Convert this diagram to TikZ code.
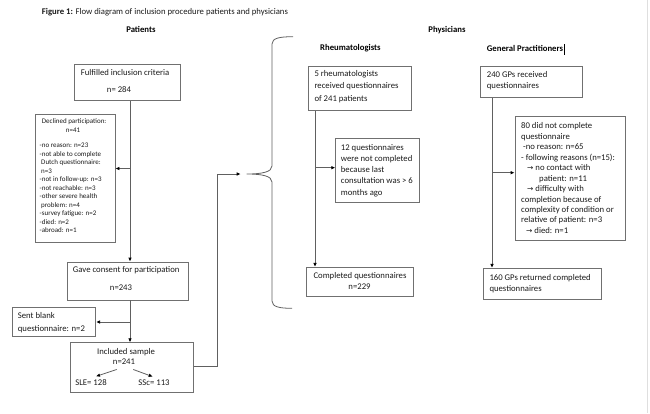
\documentclass[tikz,border=0pt]{standalone}
\usepackage{fontspec}
\setmainfont{Carlito}
\newfontfamily\arrowfont{DejaVu Sans}
\newcommand\garrow{{\fontsize{7.5}{9}\selectfont\arrowfont →}}
\usetikzlibrary{arrows.meta}
\definecolor{boxgray}{HTML}{707070}
\definecolor{linegray}{HTML}{606060}
\definecolor{txtcol}{HTML}{1A1A1A}
\begin{document}
\begin{tikzpicture}[x=1pt,y=-1pt,
  box/.style={draw=boxgray, line width=0.8pt, inner sep=0pt, rectangle},
  txt/.style={inner sep=0pt, align=left, anchor=north west, text=txtcol, font=\fontsize{8.7}{11}\selectfont},
  one/.style={inner sep=0pt, anchor=base, text=txtcol, font=\fontsize{8.7}{11}\selectfont},
  onew/.style={one, anchor=base west},
  head/.style={inner sep=0pt, anchor=base, text=black, font=\fontsize{8.7}{11}\selectfont\bfseries},
  conn/.style={draw=linegray, line width=0.8pt},
  arr/.style={conn, -{Latex[length=4pt,width=3.6pt,color=black]}}
]
\useasboundingbox (0,0) rectangle (650,413);
\draw[draw=gray!25, line width=1pt] (647,0) -- (647,413);

% title and headings
\node[onew] (title) at (41.7,14.5) {\textbf{Figure 1:} Flow diagram of inclusion procedure patients and physicians};
\node[head] (hpat) at (140.9,32.5) {Patients};
\node[head] (hphy) at (447,32.5) {Physicians};
\node[head] (hrh) at (350.4,50.8) {Rheumatologists};
\node[head] (hgp) at (525,51.8) {General Practitioners};
\draw[black, line width=0.6pt] (564.5,44) -- (564.5,55);

% patients boxes
\node[box, minimum width=105.7pt, minimum height=36.7pt] (fulfilled) at (127.2,82.4) {};
\node[onew] (fultxt) at (80.7,75.2) {Fulfilled inclusion criteria};
\node[one] (fuln) at (119,92.5) {n= 284};

\node[box, minimum width=79.5pt, minimum height=128pt] (declined) at (75.25,178) {};
\node[onew, font=\fontsize{7}{8.5}\selectfont] (dectxt) at (41.7,123.7) {Declined participation:};
\node[one, font=\fontsize{7}{8.5}\selectfont] (decn) at (73,132) {n=41};
\node[txt, font=\fontsize{7}{8.5}\selectfont] (declist) at (39.5,142.8) {-no reason: n=23\\-not able to complete\\\hspace{1.5pt}Dutch questionnaire:\\\hspace{1.5pt}n=3\\-not in follow-up: n=3\\-not reachable: n=3\\-other severe health\\\hspace{1.5pt}problem: n=4\\-survey fatigue: n=2\\-died: n=2\\-abroad: n=1};

\node[box, minimum width=121pt, minimum height=38pt] (consent) at (127.5,281) {};
\node[onew] (contxt) at (72.7,272.5) {Gave consent for participation};
\node[one] (conn) at (121,290.5) {n=243};

\node[box, minimum width=83.4pt, minimum height=28.7pt] (sent) at (54,321.65) {};
\node[txt, font=\fontsize{8.7}{13}\selectfont] (senttxt) at (17.7,312.3) {Sent blank\\questionnaire: n=2};

\node[box, minimum width=123.3pt, minimum height=49.6pt] (included) at (131.65,367.5) {};
\node[one] (inctxt) at (126,354.2) {Included sample};
\node[one] (n241) at (124,364.8) {n=241};
\node[one] (sle) at (91,385.8) {SLE= 128};
\node[one] (ssc) at (154,385.8) {SSc= 113};
\draw[arr] ([shift={(-7.3pt,-4.5pt)}]n241.south) -- ([shift={(5pt,3.3pt)}]sle.north);
\draw[arr] ([shift={(9.3pt,-4.5pt)}]n241.south) -- ([shift={(-1.3pt,3.3pt)}]ssc.north);

% patient connectors
\coordinate (tA) at (130,0);
\draw[arr] (fulfilled.south -| tA) -- (consent.north -| tA);
\coordinate (decY) at (0,168.5);
\draw[arr] (tA |- decY) -- (declined.east |- decY);
\draw[arr] (consent.south -| tA) -- (included.north -| tA);
\coordinate (sentY) at (0,322);
\draw[arr] (tA |- sentY) -- (sent.east |- sentY);

% to the brace
\coordinate (incY) at (0,366);
\coordinate (elbowX) at (217,0);
\coordinate (bracetip) at (246.7,174);
\draw[arr] (included.east |- incY) -- (elbowX |- incY) -- (elbowX |- bracetip) -- ([xshift=-6pt]bracetip);
\draw[conn] (293,36.7) .. controls (280,36.7) and (272,38) .. (272,44) -- (272,166)
  .. controls (272,172) and (262,174) .. (bracetip)
  .. controls (262,174) and (272,176) .. (272,182) -- (272,301)
  .. controls (272,307) and (280,308.3) .. (292,308.3);

% rheumatologists
\node[box, minimum width=103.4pt, minimum height=44.7pt] (rh1) at (360,88.35) {};
\node[txt, font=\fontsize{8.7}{12.2}\selectfont] (rh1txt) at (314.3,70.5) {5 rheumatologists\\received questionnaires\\of 241 patients};
\node[box, minimum width=83.3pt, minimum height=64.4pt] (rh2) at (377.35,170.5) {};
\node[txt, font=\fontsize{8.7}{11.3}\selectfont] (rh2txt) at (340.7,143.8) {12 questionnaires\\were not completed\\because last\\consultation was > 6\\months ago};
\node[box, minimum width=106.6pt, minimum height=29.4pt] (rh3) at (360,282) {};
\node[one] (rh3txt) at (360,278.5) {Completed questionnaires};
\node[one] (rh3n) at (359.5,289.2) {n=229};
\coordinate (tR) at (315,0);
\draw[arr] (rh1.south -| tR) -- (rh3.north -| tR);
\coordinate (rY) at (0,167.7);
\draw[arr] (tR |- rY) -- (rh2.west |- rY);

% general practitioners
\node[box, minimum width=102pt, minimum height=30.6pt] (gp1) at (531.7,82) {};
\node[txt, font=\fontsize{8.7}{11}\selectfont] (gp1txt) at (486.7,71.5) {240 GPs received\\questionnaires};
\node[box, minimum width=110.7pt, minimum height=123.3pt] (gp2) at (570.35,178.35) {};
\node[txt, font=\fontsize{8.7}{10.47}\selectfont] (gp2txt) at (521,122.5) {80 did not complete\\questionnaire\\\hspace{2pt}-no reason: n=65\\- following reasons (n=15):\\\hspace{6pt}\garrow\hspace{2pt}no contact with\\\hspace{18pt}patient: n=11\\\hspace{6pt}\garrow\hspace{2pt}difficulty with\\completion because of\\complexity of condition or\\relative of patient: n=3\\\hspace{5pt}\garrow\hspace{2pt}died: n=1};
\node[box, minimum width=118.4pt, minimum height=30.7pt] (gp3) at (542.5,283.65) {};
\node[txt, font=\fontsize{8.7}{10.6}\selectfont] (gp3txt) at (489.3,274.2) {160 GPs returned completed\\questionnaires};
\coordinate (tG) at (492,0);
\draw[arr] (gp1.south -| tG) -- (gp3.north -| tG);
\coordinate (gY) at (0,172.7);
\draw[arr] (tG |- gY) -- (gp2.west |- gY);
\end{tikzpicture}
\end{document}
